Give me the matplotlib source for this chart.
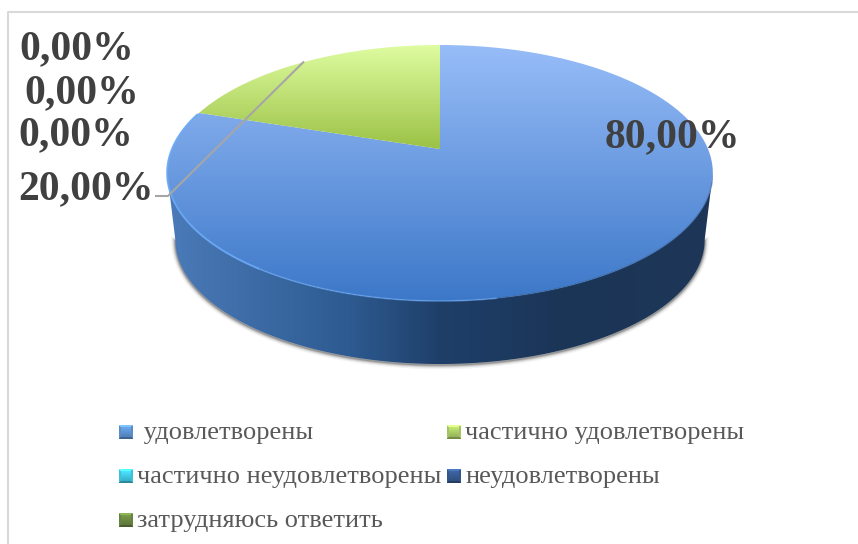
import numpy as np
import matplotlib
matplotlib.use('Agg')
import matplotlib.pyplot as plt
from matplotlib.colors import to_rgb
from matplotlib.patches import PathPatch, Polygon
from matplotlib.path import Path

categories = [' удовлетворены', 'частично удовлетворены', 'частично неудовлетворены',
              'неудовлетворены', 'затрудняюсь ответить']
values = [80.0, 20.0, 0.0, 0.0, 0.0]
swatch_colors = ['#5a8cc8', '#a4c463', '#3fc0da', '#35568a', '#66823f']

# where the labels sit, same order as categories
label_pos = [(605, 137), (18, 189), (18, 135), (24, 93), (19, 49)]
legend_pos = [(119, 432), (447, 432), (119, 476), (447, 476), (119, 520)]

# perspective of the disc, fitted on the picture
CX, CY = 440, 149
A, B, K = 268, 123.5, 0.1875
DROP, BASE_SCALE = 67.6, 0.97

SERIF = 'Liberation Serif'


def rim(t_deg, scale=1.0, drop=0.0):
    # t is clockwise from 12 o'clock
    t = np.radians(t_deg)
    w = 1 + K * np.cos(t)
    return CX + scale * A * np.sin(t) / w, CY + drop - scale * B * np.cos(t) / w


def hex_stops(stops, pos):
    xs = [s[0] for s in stops]
    rgb = np.array([to_rgb(s[1]) for s in stops])
    return np.stack([np.interp(pos, xs, rgb[:, i]) for i in range(3)], axis=-1)


fig = plt.figure(figsize=(8.58, 5.44), dpi=100)
ax = fig.add_axes([0, 0, 1, 1])
ax.set_xlim(0, 858)
ax.set_ylim(544, 0)
ax.axis('off')

# chart frame, only top and left are inside the crop
ax.plot([8, 8, 858], [544, 12, 12], color='#d9d9d9', lw=1.5, zorder=1)

# outline of the side wall
t0 = np.degrees(np.arccos(-K))
t_side = np.linspace(t0, 360 - t0, 200)
x_top, y_top = rim(t_side)
x_base, y_base = rim(t_side, BASE_SCALE, DROP)
side_xy = np.column_stack([np.r_[x_top, x_base[::-1]], np.r_[y_top, y_base[::-1]]])

# soft shadow, only round the lower edge
for lw, alpha in [(6, 0.05), (4, 0.09), (2.5, 0.14), (1.2, 0.2)]:
    ax.plot(x_base, y_base + 1, color='black', lw=lw, alpha=alpha, zorder=2)

side_stops = [(170, '#4a7ab8'), (350, '#2d5a90'), (440, '#1f3f69'), (560, '#1b3557'), (710, '#1e3759')]
xs = np.arange(160, 720)
side_img = ax.imshow(hex_stops(side_stops, xs)[np.newaxis, :, :], extent=[160, 720, 370, 170],
                     aspect='auto', zorder=3, interpolation='bilinear')
side_img.set_clip_path(Polygon(side_xy, closed=True, transform=ax.transData))

# slices, clockwise from the top
top_stops = {
    0: [(45, '#97bdf8'), (173, '#6a9ae0'), (300, '#3c78c8')],
    1: [(45, '#defca0'), (149, '#9bc145')],
}
start = 0.0
total = sum(values)
mid_angles = []
for i, val in enumerate(values):
    sweep = 360.0 * val / total
    mid_angles.append(start + sweep / 2)
    if val > 0:
        t = np.linspace(start, start + sweep, 300)
        x, y = rim(t)
        verts = np.column_stack([np.r_[CX, x, CX], np.r_[CY, y, CY]])
        clip = PathPatch(Path(verts, closed=False), transform=ax.transData, fc='none', ec='none')
        ys = np.arange(40, 305)
        img = ax.imshow(hex_stops(top_stops[i], ys)[:, np.newaxis, :], extent=[160, 720, 305, 40],
                        aspect='auto', zorder=4, interpolation='bilinear')
        img.set_clip_path(clip)
    start += sweep
ax.set_xlim(0, 858)
ax.set_ylim(544, 0)

# lit rim on the left, fades towards the front; dark line on the right
x, y = rim(np.linspace(215, 287, 80))
ax.plot(x, y, color='#6aa8f5', lw=1.4, alpha=0.9, zorder=5)
x, y = rim(np.linspace(170, 215, 50))
ax.plot(x, y, color='#6aa8f5', lw=1.2, alpha=0.55, zorder=5)
x, y = rim(np.linspace(105, 170, 80))
ax.plot(x, y, color='#2f5a94', lw=1.0, alpha=0.5, zorder=5)

# leader line of the 20 % slice
lx, ly = rim(mid_angles[1])
ax.plot([156, 168, lx], [196, 196, ly], color='#a6a6a6', lw=1.5, zorder=6)

# data labels
for val, (x, y) in zip(values, label_pos):
    ax.text(x, y, f'{val:.2f}%'.replace('.', ','), family=SERIF, weight='bold', fontsize=30,
            color='#404040', ha='left', va='center', zorder=7)

# legend, swatches are small bevelled squares
for name, col, (x, y) in zip(categories, swatch_colors, legend_pos):
    n = 14
    c = (np.arange(n) + 0.5) / n - 0.5
    gx, gy = np.meshgrid(c, c)
    base = np.array(to_rgb(col))
    shade = np.where(np.abs(gy) >= np.abs(gx), np.where(gy < 0, 1.4, 0.72), 1.0)
    shade = np.where(np.maximum(np.abs(gx), np.abs(gy)) < 0.36, 1.05 - 0.4 * gy, shade)
    ax.imshow(np.clip(base[None, None, :] * shade[:, :, None], 0, 1), extent=[x, x + n, y + n / 2, y - n / 2],
              aspect='auto', zorder=7, interpolation='nearest')
    ax.text(x + n + 4, y + 1.5, name, family=SERIF, fontsize=19, color='#595959', ha='left', va='center', zorder=7)
ax.set_xlim(0, 858)
ax.set_ylim(544, 0)

plt.savefig('out.png', dpi=100)
